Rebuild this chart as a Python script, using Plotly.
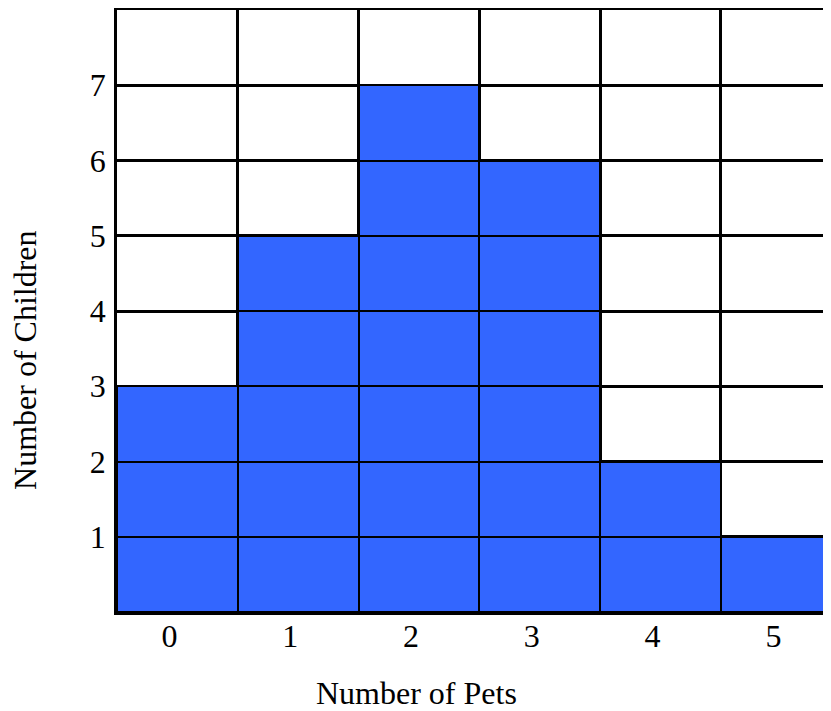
import plotly.graph_objects as go

pets = [0, 1, 2, 3, 4, 5]
children = [3, 5, 7, 6, 2, 1]
x_tick_labels = ["0", "1", "2", "3", "4", "5"]
y_ticks = [1, 2, 3, 4, 5, 6, 7]
y_tick_labels = ["1", "2", "3", "4", "5", "6", "7"]

BLUE = "#3366FF"
FONT = "Liberation Serif"
LW = 2.5

fig = go.Figure()
# one unit-high stacked layer per level so each cell is outlined
for level in range(1, max(children) + 1):
    xs = [p for p, c in zip(pets, children) if c >= level]
    fig.add_trace(go.Bar(
        x=xs, y=[1] * len(xs), width=1,
        marker=dict(color=BLUE, line=dict(color="black", width=LW)),
        showlegend=False, hoverinfo="skip",
    ))

fig.update_layout(
    width=831, height=703,
    margin=dict(l=109, r=0, t=2, b=99),
    barmode="stack", bargap=0,
    plot_bgcolor="white", paper_bgcolor="white",
    font=dict(family=FONT, size=32, color="black"),
    xaxis=dict(
        range=[-0.5, 5.477],
        tickvals=pets, ticktext=x_tick_labels,
        showgrid=False, zeroline=False,
        showline=True, linecolor="black", linewidth=LW, mirror=True,
        ticks="", ticklabelshift=-8, ticklabelstandoff=-6,
        minor=dict(tick0=0.5, dtick=1, showgrid=True, gridcolor="black", gridwidth=LW, ticks=""),
    ),
    yaxis=dict(
        range=[0, 8],
        tickvals=y_ticks, ticktext=y_tick_labels,
        showgrid=True, gridcolor="black", gridwidth=LW,
        zeroline=False,
        showline=True, linecolor="black", linewidth=LW,
        ticks="", ticklabelstandoff=2,
    ),
    annotations=[
        dict(text="Number of Pets", xref="paper", yref="paper", x=0.4145, y=-0.1346,
             xanchor="center", yanchor="middle", showarrow=False,
             font=dict(family=FONT, size=32)),
        dict(text="Number of Children", xref="paper", yref="paper", x=-0.1275, y=0.4186,
             xanchor="center", yanchor="middle", textangle=-90, showarrow=False,
             font=dict(family=FONT, size=32)),
    ],
)

fig.write_html("out.html")
